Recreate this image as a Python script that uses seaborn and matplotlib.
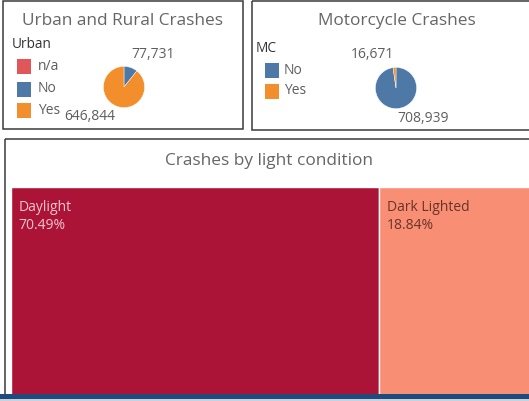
import numpy as np
import seaborn as sns
import matplotlib.pyplot as plt
from matplotlib.patches import Rectangle

# data
urban_labels = ["n/a", "No", "Yes"]
urban_counts = [0, 77731, 646844]
mc_labels = ["No", "Yes"]
mc_counts = [708939, 16671]
light_conditions = ["Daylight", "Dark Lighted"]
light_pct = [70.49, 18.84]

sns.set_theme(style="white")
plt.rcParams['font.family'] = ['Open Sans', 'DejaVu Sans']

W, H = 529, 401
fig = plt.figure(figsize=(W / 100, H / 100), dpi=100)
fig.patch.set_facecolor("white")

urban_colors = ["#e15759", "#4e79a7", "#f28e2b"]
mc_colors = ["#4e79a7", "#f28e2b"]
light_colors = ["#ab1337", "#f88f74"]
title_c = "#666666"
text_c = "#5e5e5e"


def px_axes(x0, y0, x1, y1):
    return fig.add_axes([x0 / W, 1 - y1 / H, (x1 - x0) / W, (y1 - y0) / H])


# overlay in pixel coordinates for frames, titles and legends
bg = fig.add_axes([0, 0, 1, 1])
bg.set_xlim(0, W)
bg.set_ylim(H, 0)
bg.axis("off")

for x0, y0, x1, y1 in [(3, 1, 243, 129), (252, 1, 540, 130), (5, 139, 540, 420)]:
    bg.add_patch(Rectangle((x0, y0), x1 - x0, y1 - y0, fill=False,
                           edgecolor="#3a3a3a", linewidth=1.1))

bg.text(123, 21, "Urban and Rural Crashes", ha="center", va="center",
        fontsize=12.4, color=title_c)
bg.text(397, 21, "Motorcycle Crashes", ha="center", va="center",
        fontsize=12.4, color=title_c)
bg.text(269, 161, "Crashes by light condition", ha="center", va="center",
        fontsize=12.4, color=title_c)

# legends
bg.text(12, 45, "Urban", ha="left", va="center", fontsize=9.8, color="#333333")
for lab, col, yc in zip(urban_labels, urban_colors, [66, 89, 110]):
    bg.add_patch(Rectangle((17, yc - 7.5), 14, 15, color=col, linewidth=0))
    bg.text(38, yc, lab, ha="left", va="center", fontsize=10, color=text_c)

bg.text(256, 48, "MC", ha="left", va="center", fontsize=9.8, color="#333333")
for lab, col, yc in zip(mc_labels, mc_colors, [70, 91]):
    bg.add_patch(Rectangle((265, yc - 7.5), 14, 15, color=col, linewidth=0))
    bg.text(284, yc, lab, ha="left", va="center", fontsize=10, color=text_c)

# pies
r = 21
ax1 = px_axes(124 - r, 87 - r, 124 + r, 87 + r)
ax1.pie(urban_counts, colors=urban_colors, startangle=90, counterclock=False,
        wedgeprops=dict(linewidth=0.3, edgecolor="white"))
ax1.set_xlim(-1.02, 1.02)
ax1.set_ylim(-1.02, 1.02)
bg.text(153, 54, f"{urban_counts[1]:,}", ha="center", va="center", fontsize=10, color=text_c)
bg.text(90, 117, f"{urban_counts[2]:,}", ha="center", va="center", fontsize=10, color=text_c)

ax2 = px_axes(396 - r, 88 - r, 396 + r, 88 + r)
ax2.pie(mc_counts, colors=mc_colors, startangle=90, counterclock=False,
        wedgeprops=dict(linewidth=0.3, edgecolor="white"))
ax2.set_xlim(-1.02, 1.02)
ax2.set_ylim(-1.02, 1.02)
bg.text(372, 54, f"{mc_counts[1]:,}", ha="center", va="center", fontsize=10, color=text_c)
bg.text(423, 118, f"{mc_counts[0]:,}", ha="center", va="center", fontsize=10, color=text_c)

# treemap (only top part visible)
ax3 = px_axes(11, 187, 533, 394)
rest = 100 - light_pct[0]
lefts = [0, light_pct[0]]
widths = [light_pct[0], rest]
heights = [100, light_pct[1] / rest * 100]
ax3.bar(lefts, heights, width=widths, bottom=0, align="edge",
        color=light_colors, edgecolor="white", linewidth=1)
ax3.set_xlim(0, 100)
ax3.set_ylim(49, 0)
ax3.axis("off")
label_cols = ["#f3c6cf", "#6a3328"]
for lab, pct, x, col in zip(light_conditions, light_pct, lefts, label_cols):
    ax3.text(x + 1.5, 3.0, f"{lab}\n{pct:.2f}%", ha="left", va="top",
             fontsize=10, color=col, linespacing=1.3)

# bottom bar
bg.add_patch(Rectangle((0, 394), W, 5, color="#1f4a7e", linewidth=0))
bg.add_patch(Rectangle((0, 399), W, 2, color="#c9d1da", linewidth=0))
bg.set_zorder(0)

fig.savefig("out.png", dpi=100)
